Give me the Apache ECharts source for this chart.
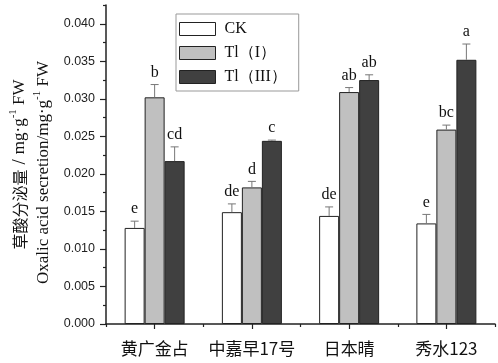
<!DOCTYPE html>
<html>
<head>
<meta charset="utf-8">
<script src="https://cdn.jsdelivr.net/npm/echarts@6/dist/echarts.min.js"></script>
<style>
html,body{margin:0;padding:0;background:#fff;}
#c{width:498px;height:363px;}
</style>
</head>
<body>
<div id="c"></div>
<script>
const categories = ['黄广金占', '中嘉早17号', '日本晴', '秀水123'];
const seriesNames = ['CK', 'Tl（I）', 'Tl（III）'];
const ckValues = [0.0128, 0.0149, 0.0144, 0.0134];
const ckErrors = [0.0009, 0.0011, 0.0012, 0.0012];
const ckLetters = ['e', 'de', 'de', 'e'];
const t1Values = [0.0302, 0.0182, 0.0309, 0.0259];
const t1Errors = [0.0017, 0.0008, 0.0006, 0.0006];
const t1Letters = ['b', 'd', 'ab', 'bc'];
const t3Values = [0.0217, 0.0244, 0.0325, 0.0352];
const t3Errors = [0.0019, 0.0001, 0.0007, 0.0021];
const t3Letters = ['cd', 'c', 'ab', 'a'];
const yMajorTicks = [0, 0.005, 0.010, 0.015, 0.020, 0.025, 0.030, 0.035, 0.040];
const yMinorTicks = [0.0025, 0.0075, 0.0125, 0.0175, 0.0225, 0.0275, 0.0325, 0.0375, 0.0425];
const yMin = 0, yMax = 0.0425;

const colors = ['#ffffff', '#c0c0c0', '#404040'];
const BAR_W = 20;
const serif = '"Liberation Serif","Times New Roman",serif';
const cjk = '"Noto Sans CJK SC","Noto Sans",sans-serif';

const chart = echarts.init(document.getElementById('c'), null, {renderer: 'canvas'});

const groups = [
  {vals: ckValues, errs: ckErrors, letters: ckLetters},
  {vals: t1Values, errs: t1Errors, letters: t1Letters},
  {vals: t3Values, errs: t3Errors, letters: t3Letters}
];

const barSeries = groups.map((g, k) => ({
  name: seriesNames[k],
  type: 'bar',
  xAxisIndex: 0, yAxisIndex: 0,
  barWidth: BAR_W,
  barGap: '0%',
  data: g.vals,
  itemStyle: {color: colors[k], borderColor: '#222', borderWidth: 1},
  emphasis: {disabled: true},
  z: 2
}));

const errSeries = groups.map((g, k) => ({
  type: 'custom',
  xAxisIndex: 0, yAxisIndex: 0,
  z: 3,
  silent: true,
  data: g.vals.map((v, i) => [i, v, v + g.errs[i], g.letters[i]]),
  renderItem: function (params, api) {
    const i = api.value(0);
    const base = api.coord([i, api.value(1)]);
    const top = api.coord([i, api.value(2)]);
    const x = base[0] + (k - 1) * BAR_W;
    const cap = 4;
    return {
      type: 'group',
      children: [
        {type: 'line', shape: {x1: x, y1: base[1], x2: x, y2: top[1]}, style: {stroke: '#777', lineWidth: 1}},
        {type: 'line', shape: {x1: x - cap, y1: top[1], x2: x + cap, y2: top[1]}, style: {stroke: '#777', lineWidth: 1}},
        {type: 'text', x: x, y: top[1] - 4, style: {text: api.value(3), fill: '#111', font: '16px ' + serif, align: 'center', verticalAlign: 'bottom'}}
      ]
    };
  }
}));

const option = {
  animation: false,
  backgroundColor: '#fff',
  grid: {left: 100, right: 3, top: 5, bottom: 39, containLabel: false},
  legend: {
    orient: 'vertical',
    left: 176, top: 14,
    data: seriesNames,
    itemWidth: 36, itemHeight: 13, itemGap: 8,
    padding: [7, 12, 6, 3],
    borderColor: '#999', borderWidth: 1,
    icon: 'rect',
    itemStyle: {borderColor: '#222', borderWidth: 1},
    textStyle: {fontFamily: serif, fontSize: 16, color: '#111', padding: [0, 0, 0, 4]}
  },
  xAxis: [
    {
      type: 'category', data: categories, boundaryGap: true,
      axisLine: {lineStyle: {color: '#222', width: 1.5}},
      axisTick: {show: true, alignWithLabel: true, interval: 0, length: 5, inside: false, lineStyle: {color: '#222', width: 1.2}},
      axisLabel: {interval: 0, margin: 16, fontSize: 17, color: '#111', fontFamily: cjk},
      splitLine: {show: false}
    },
    {
      type: 'category', data: categories, boundaryGap: true, position: 'bottom',
      axisLine: {show: false},
      axisTick: {show: true, alignWithLabel: false, interval: 0, length: 3, lineStyle: {color: '#222', width: 1.2}},
      axisLabel: {show: false},
      splitLine: {show: false}
    }
  ],
  yAxis: [
    {
      type: 'value', min: yMin, max: yMax,
      name: '{c|草酸分泌量}{sl|/}{a|mg·g}{s|-1}{a| FW}\n{a|Oxalic acid secretion/mg·g}{s|-1}{e| FW}',
      nameLocation: 'middle', nameRotate: 90, nameGap: 50,
      nameTextStyle: {
        color: '#111',
        rich: {
          c: {fontFamily: cjk, fontSize: 16, color: '#111', lineHeight: 24},
          sl: {fontFamily: serif, fontSize: 19, color: '#111', lineHeight: 24, padding: [0, 5, 0, 5]},
          a: {fontFamily: serif, fontSize: 17, color: '#111', lineHeight: 24},
          e: {fontFamily: serif, fontSize: 17, color: '#111', lineHeight: 24, padding: [0, 16, 0, 0]},
          s: {fontFamily: serif, fontSize: 11, color: '#111', lineHeight: 24, verticalAlign: 'top'}
        }
      },
      axisLine: {show: true, lineStyle: {color: '#222', width: 1.5}},
      axisTick: {show: true, length: 6, customValues: yMajorTicks, lineStyle: {color: '#222', width: 1.2}},
      axisLabel: {customValues: yMajorTicks, formatter: v => v.toFixed(3), margin: 11, fontSize: 12.5, color: '#222', fontFamily: '"Liberation Sans",Arial,sans-serif'},
      splitLine: {show: false}
    },
    {
      type: 'value', min: yMin, max: yMax, position: 'left',
      axisLine: {show: false},
      axisTick: {show: true, length: 3, customValues: yMinorTicks, lineStyle: {color: '#222', width: 1.2}},
      axisLabel: {show: false},
      splitLine: {show: false}
    }
  ],
  series: barSeries.concat(errSeries)
};
chart.setOption(option);
</script>
</body>
</html>
